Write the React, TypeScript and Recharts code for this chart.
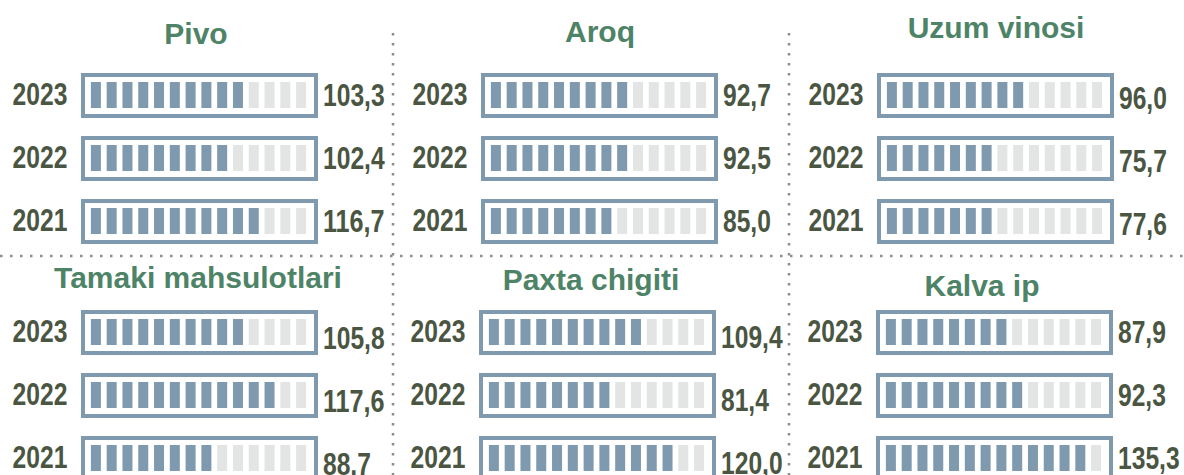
import { Bar, BarChart, LabelList, XAxis, YAxis } from "recharts";

const years = ["2023", "2022", "2021"];
const TOTAL_SEGMENTS = 14;

const pivoValues = [103.3, 102.4, 116.7];
const pivoSegments = [10, 9, 11];
const aroqValues = [92.7, 92.5, 85.0];
const aroqSegments = [9, 9, 8];
const uzumValues = [96.0, 75.7, 77.6];
const uzumSegments = [9, 7, 7];
const tamakiValues = [105.8, 117.6, 88.7];
const tamakiSegments = [10, 12, 8];
const paxtaValues = [109.4, 81.4, 120.0];
const paxtaSegments = [10, 8, 12];
const kalvaValues = [87.9, 92.3, 135.3];
const kalvaSegments = [8, 9, 13];

const BAR = "#7f9aae";
const EMPTY = "#e2e5e4";
const TEXT = "#4a5542";
const TITLE = "#4d8366";
const DOT = "#8c8c8c";
const SANS = "'Liberation Sans', Arial, sans-serif";
const SEG_W = 10;

const panels = [
  { title: "Pivo", values: pivoValues, segments: pivoSegments, left: 0, top: 63, tx: 196, ty: 44, dy: 0 },
  { title: "Aroq", values: aroqValues, segments: aroqSegments, left: 399.5, top: 63, tx: 600, ty: 42, dy: 0 },
  { title: "Uzum vinosi", values: uzumValues, segments: uzumSegments, left: 796, top: 63, tx: 996, ty: 38, dy: 3 },
  { title: "Tamaki mahsulotlari", values: tamakiValues, segments: tamakiSegments, left: 0, top: 300, tx: 198, ty: 288, dy: 6 },
  { title: "Paxta chigiti", values: paxtaValues, segments: paxtaSegments, left: 398, top: 300, tx: 591, ty: 290, dy: 5 },
  { title: "Kalva ip", values: kalvaValues, segments: kalvaSegments, left: 794.5, top: 300, tx: 982, ty: 296, dy: 0 },
];

const formatValue = (v: number) => v.toFixed(1).replace(".", ",");

// condensed look: the narrow face isn't installed, so squeeze the glyphs
const narrowLength = (s: string) =>
  s.split("").reduce((w, c) => w + (c === "," ? 6.8 : 13.7), 0);

function NarrowText({ x, y, anchor, children }: { x: number; y: number; anchor: "start" | "middle"; children: string }) {
  return (
    <text
      x={x}
      y={y}
      textAnchor={anchor}
      fill={TEXT}
      fontFamily={SANS}
      fontWeight={700}
      fontSize={31}
      textLength={narrowLength(children)}
      lengthAdjust="spacingAndGlyphs"
    >
      {children}
    </text>
  );
}

function Segments(props: any) {
  const { x, y, width, height, count, fill } = props;
  if (!count) return null;
  const step = width / count;
  return (
    <g>
      {Array.from({ length: count }, (_, i) => (
        <rect
          key={i}
          x={x + i * step + (step - SEG_W) / 2}
          y={y}
          width={SEG_W}
          height={height}
          fill={fill}
        />
      ))}
    </g>
  );
}

function Frame(props: any) {
  const { x, y, width, height } = props;
  return (
    <rect
      x={x - 5}
      y={y - 7}
      width={width + 12}
      height={height + 15}
      fill="#fff"
      stroke={BAR}
      strokeWidth={4}
    />
  );
}

function YearTick(props: any) {
  const { y, payload } = props;
  return (
    <NarrowText x={40} y={y + 10} anchor="middle">
      {String(payload.value)}
    </NarrowText>
  );
}

function Panel({ values, segments, dy }: { values: number[]; segments: number[]; dy: number }) {
  const data = years.map((year, i) => ({
    year,
    value: values[i],
    filled: segments[i],
    empty: TOTAL_SEGMENTS - segments[i],
  }));
  return (
    <BarChart
      width={400}
      height={189}
      data={data}
      layout="vertical"
      barSize={26}
      margin={{ top: 0, right: 91, bottom: 0, left: 0 }}
    >
      <XAxis type="number" domain={[0, TOTAL_SEGMENTS]} hide />
      <YAxis type="category" dataKey="year" width={88} axisLine={false} tickLine={false} tick={<YearTick />} />
      <Bar
        dataKey="filled"
        stackId="s"
        isAnimationActive={false}
        background={(p: any) => <Frame {...p} />}
        shape={(p: any) => <Segments {...p} count={p.payload.filled} fill={BAR} />}
      />
      <Bar
        dataKey="empty"
        stackId="s"
        isAnimationActive={false}
        shape={(p: any) => <Segments {...p} count={p.payload.empty} fill={EMPTY} />}
      >
        <LabelList
          dataKey="value"
          content={(p: any) => (
            <NarrowText
              x={Number(p.x) + Number(p.width) + 14}
              y={Number(p.y) + Number(p.height) / 2 + 11 + dy}
              anchor="start"
            >
              {formatValue(Number(p.value))}
            </NarrowText>
          )}
        />
      </Bar>
    </BarChart>
  );
}

export default function App() {
  return (
    <div
      style={{
        position: "absolute",
        left: 0,
        top: 0,
        width: 1184,
        height: 475,
        overflow: "hidden",
        background: "#fff",
      }}
    >
      {panels.map((p) => (
        <div key={p.title} style={{ position: "absolute", left: p.left, top: p.top }}>
          <Panel values={p.values} segments={p.segments} dy={p.dy} />
        </div>
      ))}
      <svg
        width={1184}
        height={475}
        style={{ position: "absolute", left: 0, top: 0, pointerEvents: "none" }}
      >
        <line x1={393} y1={33} x2={393} y2={475} stroke={DOT} strokeWidth={2.5} strokeDasharray="2.5 7.5" />
        <line x1={789} y1={33} x2={789} y2={475} stroke={DOT} strokeWidth={2.5} strokeDasharray="2.5 7.5" />
        <line x1={0} y1={256} x2={1184} y2={256} stroke={DOT} strokeWidth={2.5} strokeDasharray="2.5 7.5" />
        {panels.map((p) => (
          <text
            key={p.title}
            x={p.tx}
            y={p.ty}
            textAnchor="middle"
            fill={TITLE}
            fontFamily={SANS}
            fontWeight={700}
            fontSize={30}
          >
            {p.title}
          </text>
        ))}
      </svg>
    </div>
  );
}
